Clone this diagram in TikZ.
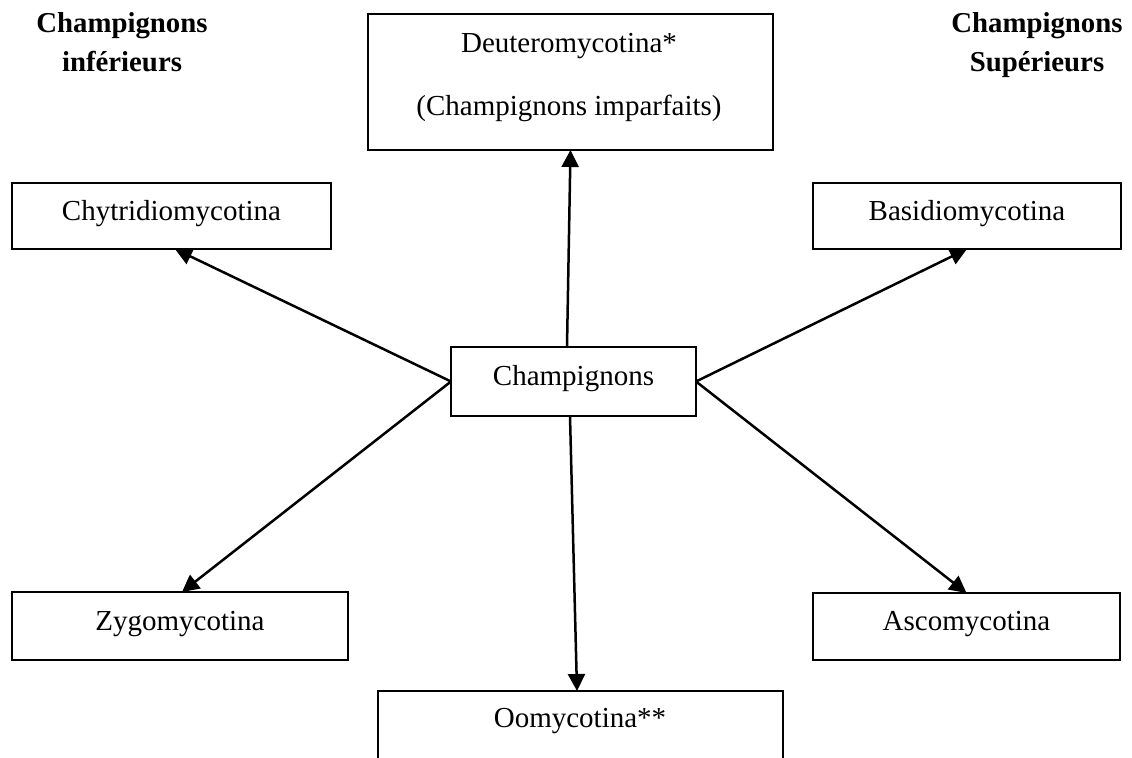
\documentclass[tikz,border=0pt]{standalone}
\usepackage{fontspec}
\setmainfont{Liberation Serif}
\usetikzlibrary{arrows.meta}

\begin{document}
\begin{tikzpicture}[x=0.5pt,y=-0.5pt,
  font=\fontsize{14.5pt}{17pt}\selectfont,
  box/.style={draw,line width=1pt,inner sep=0pt,outer sep=0pt,
              text height=0.7em,text depth=0.25em},
  txt/.style={inner sep=0pt,anchor=base},
  head/.style={inner sep=0pt,anchor=base,font=\fontsize{14.4pt}{17pt}\selectfont\bfseries},
  arr/.style={line width=1.25pt,-{Triangle[length=8.5pt,width=8.5pt]}}]

  \clip (0,0) rectangle (1132,758);
  \useasboundingbox (0,0) rectangle (1132,758);

  % group headings
  \node[head] (infA) at (122,33) {Champignons};
  \node[head] (infB) at (122,72) {inférieurs};
  \node[head] (supA) at (1037,33) {Champignons};
  \node[head] (supB) at (1037,72) {Supérieurs};

  % central node
  \node[box,minimum width=122.5pt,minimum height=34.5pt] (champ) at (573.5,381.5) {Champignons};

  % imperfect fungi, two lines
  \node[draw,line width=1pt,inner sep=0pt,outer sep=0pt,
        minimum width=202.5pt,minimum height=68pt] (deut) at (570.5,82) {};
  \node[txt] (deutA) at (569,53) {Deuteromycotina*};
  \node[txt] (deutB) at (569,116) {(Champignons imparfaits)};

  % subdivisions
  \node[box,minimum width=159.5pt,minimum height=33pt] (chyt) at (171.5,216) {Chytridiomycotina};
  \node[box,minimum width=154pt,minimum height=33pt] (basi) at (967,216) {Basidiomycotina};
  \node[box,minimum width=168pt,minimum height=34pt] (zygo) at (180,626) {Zygomycotina};
  \node[box,minimum width=153.5pt,minimum height=33.5pt] (asco) at (966.5,626.5) {Ascomycotina};

  % lower box, running past the bottom edge
  \node[draw,line width=1pt,inner sep=0pt,outer sep=0pt,
        minimum width=202.5pt,minimum height=68pt] (oomy) at (580.5,759) {};
  \node[txt] (oomyA) at (580,728) {Oomycotina**};

  % connectors
  \draw[arr] ([xshift=-3.25pt]champ.north) -- (deut.south);
  \draw[arr] ([xshift=-1.75pt]champ.south) -- ([xshift=-1.75pt]oomy.north);
  \draw[arr] (champ.west) -- ([xshift=1.75pt]chyt.south);
  \draw[arr] (champ.west) -- ([xshift=1pt]zygo.north);
  \draw[arr] (champ.east) -- (basi.south);
  \draw[arr] (champ.east) -- (asco.north);
\end{tikzpicture}
\end{document}
